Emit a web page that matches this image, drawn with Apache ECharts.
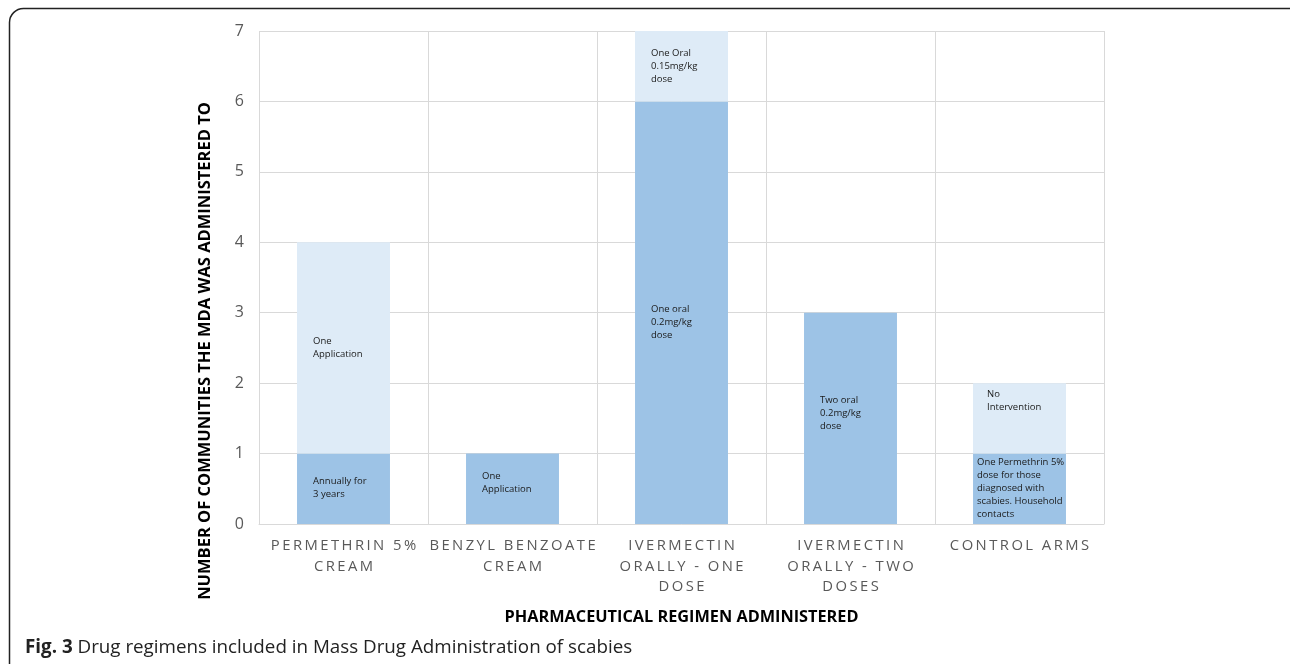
<!DOCTYPE html>
<html>
<head>
<meta charset="utf-8">
<script src="https://cdn.jsdelivr.net/npm/echarts@6/dist/echarts.min.js"></script>
<style>html,body{margin:0;padding:0;background:#fff;}#c{width:1290px;height:664px;}</style>
</head>
<body>
<div id="c"></div>
<script>
const categories = ['PERMETHRIN 5%\nCREAM', 'BENZYL BENZOATE\nCREAM', 'IVERMECTIN\nORALLY - ONE\nDOSE', 'IVERMECTIN\nORALLY - TWO\nDOSES', 'CONTROL ARMS'];
const baseValues = [1, 1, 6, 3, 1];
const topValues = [3, null, 1, null, 1];
const baseLabels = ['Annually for\n3 years', 'One\nApplication', 'One oral\n0.2mg/kg\ndose', 'Two oral\n0.2mg/kg\ndose', 'One Permethrin 5%\ndose for those\ndiagnosed with\nscabies. Household\ncontacts'];
const topLabels = ['One\nApplication', '', 'One Oral\n0.15mg/kg\ndose', '', 'No\nIntervention'];
const yTicks = [0, 1, 2, 3, 4, 5, 6, 7];

const baseOffsets = [[0, -1], [0, -6], [0, 10], [0, -5], [0, 0]];
const baseDist = [16, 16, 16, 16, 4];
const topOffsets = [[0, 0], [0, 0], [0, 0], [0, 0], [0, -18]];
const topDist = [16, 16, 16, 16, 14];

const labelFont = {color: '#1a1a1a', fontFamily: 'Open Sans', fontSize: 9.5, lineHeight: 13, align: 'left'};

// visual letter spacing for the category labels (thin spaces between glyphs)
function spaced(s) {
  return s.split('\n').map(line => Array.from(line).join('\u2009')).join('\n');
}

const chart = echarts.init(document.getElementById('c'));
chart.setOption({
  animation: false,
  grid: {left: 259, right: 186, top: 31, bottom: 140, containLabel: false},
  xAxis: {
    type: 'category',
    data: categories,
    axisLine: {show: true, lineStyle: {color: '#d9d9d9', width: 1}},
    axisTick: {show: false},
    splitLine: {show: true, lineStyle: {color: '#d9d9d9', width: 1}},
    axisLabel: {color: '#595959', fontFamily: 'Open Sans', fontSize: 14.8, lineHeight: 20.5, margin: 12, interval: 0,
      formatter: v => spaced(v)},
    name: 'PHARMACEUTICAL REGIMEN ADMINISTERED',
    nameLocation: 'middle',
    nameGap: 85,
    nameTextStyle: {color: '#000', fontFamily: 'Open Sans', fontSize: 16.3, fontWeight: 'bold'}
  },
  yAxis: {
    type: 'value',
    min: 0, max: 7, interval: 1,
    axisLine: {show: false},
    axisTick: {show: false},
    splitLine: {lineStyle: {color: '#d9d9d9', width: 1}},
    axisLabel: {color: '#595959', fontFamily: 'Open Sans', fontSize: 16, margin: 15,
      formatter: v => yTicks.includes(v) ? String(v) : ''}
  },
  graphic: [
    {type: 'rect', shape: {x: 9.5, y: 8.5, width: 1320, height: 720, r: 14}, style: {fill: 'none', stroke: '#222', lineWidth: 1.5}, silent: true},
    {type: 'text', x: 205, y: 351, rotation: Math.PI / 2, style: {text: 'NUMBER OF COMMUNITIES THE MDA WAS ADMINISTERED TO', fill: '#000', font: 'bold 16.5px "Open Sans"', textAlign: 'center', textVerticalAlign: 'middle'}},
    {type: 'text', x: 25, y: 648, style: {
      text: '{b|Fig. 3} Drug regimens included in Mass Drug Administration of scabies',
      rich: {b: {fontWeight: 'bold', fontSize: 18.8, fontFamily: 'Open Sans', fill: '#222'}},
      fill: '#222', fontSize: 18.8, fontFamily: 'Open Sans', textVerticalAlign: 'middle'}}
  ],
  series: [
    {
      type: 'bar', stack: 'a', barWidth: '55%',
      itemStyle: {color: '#9DC3E6'},
      data: baseValues.map((v, i) => ({
        value: v,
        label: Object.assign({show: true, position: 'insideLeft', distance: baseDist[i], offset: baseOffsets[i], formatter: baseLabels[i]}, labelFont)
      }))
    },
    {
      type: 'bar', stack: 'a', barWidth: '55%',
      itemStyle: {color: '#DEEBF7'},
      data: topValues.map((v, i) => ({
        value: v,
        label: Object.assign({show: !!topLabels[i], position: 'insideLeft', distance: topDist[i], offset: topOffsets[i], formatter: topLabels[i]}, labelFont)
      }))
    }
  ]
});
</script>
</body>
</html>
